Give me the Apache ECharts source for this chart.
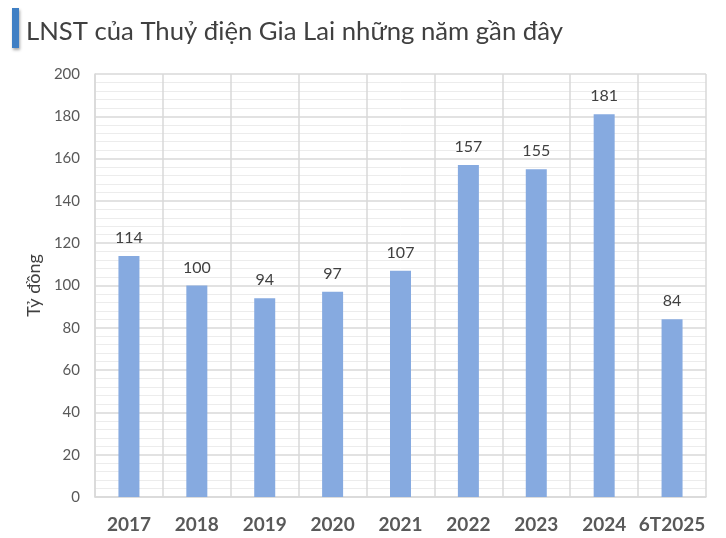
<!DOCTYPE html>
<html><head><meta charset="utf-8">
<script src="https://cdn.jsdelivr.net/npm/echarts@6/dist/echarts.min.js"></script>
<style>html,body{margin:0;padding:0;background:#fff}#c{width:726px;height:538px}</style>
</head><body><div id="c"></div>
<script>
const categories = ['2017','2018','2019','2020','2021','2022','2023','2024','6T2025'];
const values = [114,100,94,97,107,157,155,181,84];
const yTicks = [0,20,40,60,80,100,120,140,160,180,200];
const titleText = 'LNST của Thuỷ điện Gia Lai những năm gần đây';
const yName = 'Tỷ đồng';

const chart = echarts.init(document.getElementById('c'));
chart.setOption({
  animation:false,
  backgroundColor:'#fff',
  title:{text:titleText,left:26,top:19,padding:0,textStyle:{fontFamily:'Lato',fontSize:25.7,fontWeight:'normal',color:'#404040'}},
  graphic:[{type:'rect',shape:{x:12,y:8,width:7,height:40},style:{fill:'#3f7fc4',shadowBlur:3,shadowColor:'rgba(0,0,0,0.35)',shadowOffsetX:1,shadowOffsetY:2}}],
  grid:{left:95,right:20,top:74,bottom:41},
  xAxis:{type:'category',data:categories,
    axisLine:{show:true,lineStyle:{color:'#d9d9d9',width:1.5}},
    axisTick:{show:false},
    splitLine:{show:true,interval:0,lineStyle:{color:'#d9d9d9',width:1.5}},
    axisLabel:{interval:0,margin:18,fontFamily:'Lato',fontSize:19,fontWeight:'bold',color:'#595959'}},
  yAxis:{type:'value',min:yTicks[0],max:yTicks[yTicks.length-1],interval:20,
    name:yName,nameLocation:'middle',nameGap:50,nameRotate:90,
    nameTextStyle:{fontFamily:'Lato',fontSize:18,color:'#404040'},
    axisLine:{show:true,lineStyle:{color:'#d9d9d9',width:1.5}},
    axisTick:{show:false},
    axisLabel:{margin:15,fontFamily:'Lato',fontSize:15,color:'#595959'},
    splitLine:{show:true,lineStyle:{color:'#d9d9d9',width:1.5}},
    minorTick:{show:false,splitNumber:5},
    minorSplitLine:{show:true,lineStyle:{color:'#ececec',width:1}}},
  series:[{type:'bar',data:values,barWidth:21,
    itemStyle:{color:'#86aae0'},
    label:{show:true,position:'top',distance:10,fontFamily:'Lato',fontSize:16,color:'#404040'}}]
});
</script></body></html>
